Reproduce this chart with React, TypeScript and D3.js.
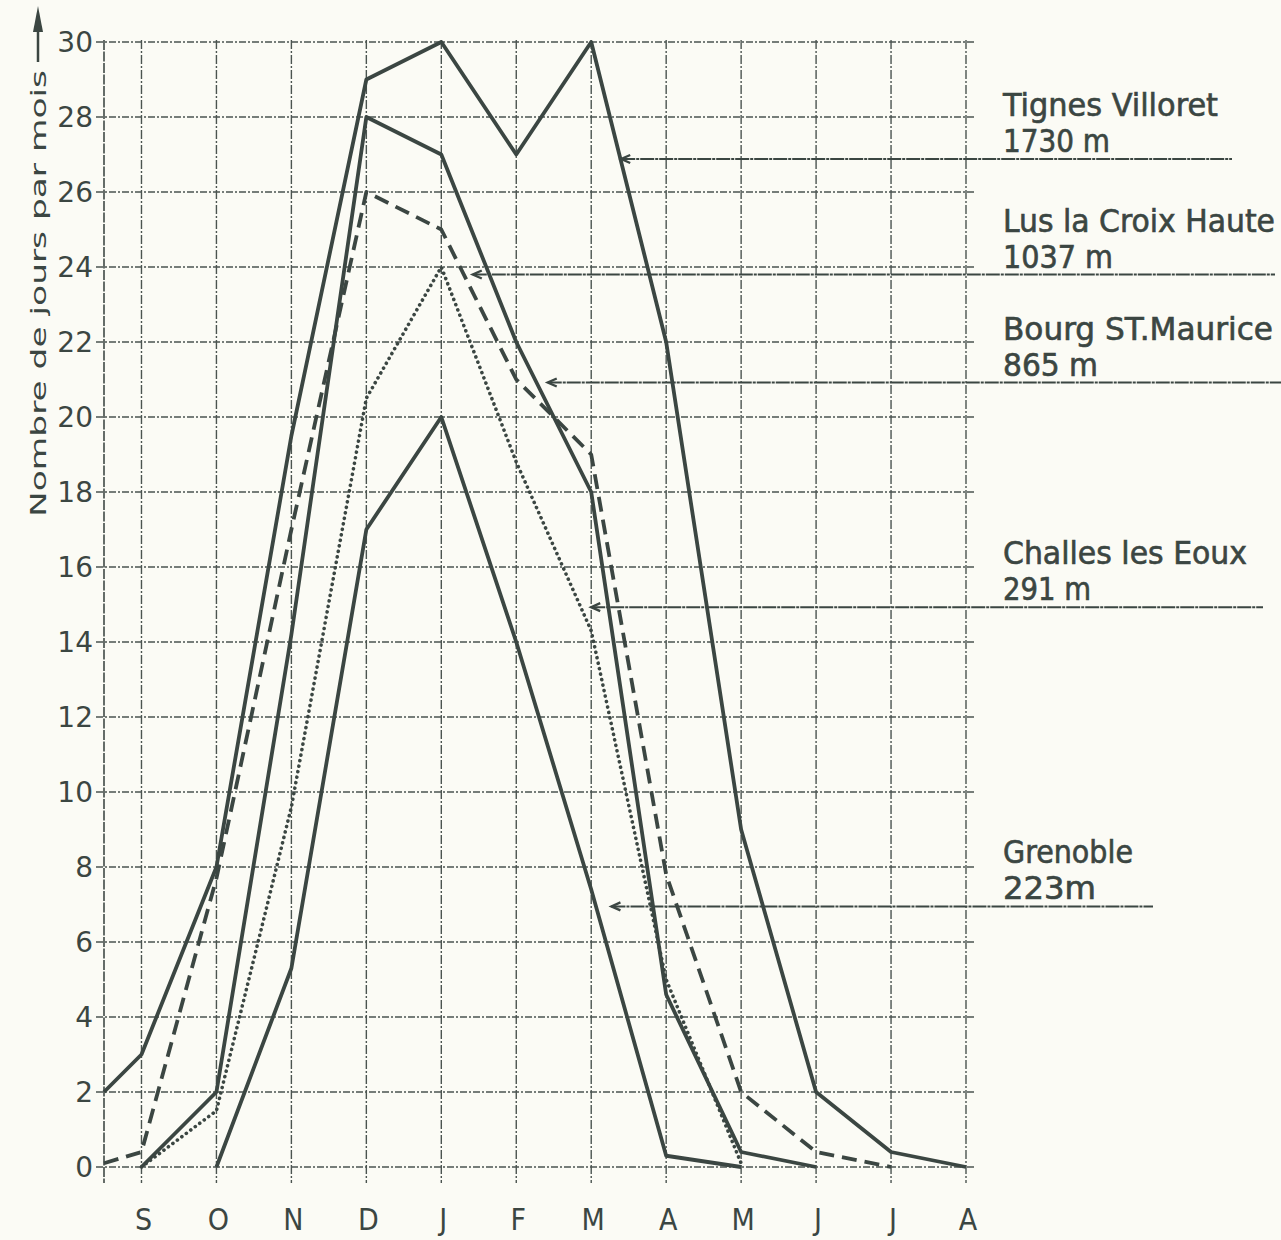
import React from "react";
import * as d3 from "d3";

// ---- data ----
const months = ["S", "O", "N", "D", "J", "F", "M", "A", "M", "J", "J", "A"];
// x positions of the samples (month index; -0.5 = left edge of the grid)
const xPos = [-0.5, 0, 1, 2, 3, 4, 5, 6, 7, 8, 9, 10, 11];
const yTicks = [0, 2, 4, 6, 8, 10, 12, 14, 16, 18, 20, 22, 24, 26, 28, 30];

const tignes = [2, 3, 8, 19.5, 29, 30, 27, 30, 22, 9, 2, 0.4, 0];
const lus = [0.1, 0.4, 7.7, 17, 26, 25, 21, 19, 7.8, 2, 0.4, 0, null];
const bourg = [null, 0, 2, 14.2, 28, 27, 22, 18, 4.6, 0.4, 0, null, null];
const challes = [null, 0, 1.5, 9.6, 20.5, 24, 18.8, 14.3, 5, 0.1, null, null, null];
const grenoble = [null, null, 0, 5.3, 17, 20, 14, 7.4, 0.3, 0, null, null, null];

const stationNames = ["Tignes Villoret", "Lus la Croix Haute", "Bourg ST.Maurice", "Challes les Eoux", "Grenoble"];
const stationAlts = ["1730 m", "1037 m", "865 m", "291 m", "223m"];
// where each leader arrow touches its curve (month index, days)
const leaderX = [6.4, 4.42, 5.42, 6.0, 6.27];
const leaderY = [26.88, 23.8, 20.92, 14.93, 6.95];

const yTitle = "Nombre de jours par mois";

// ---- layout / style ----
const W = 1281, H = 1240;
const INK = "#3b4642";
const GRID = "#4b5450";
const BG = "#fbfbf5";
const leaderEnd = [1232, 1275, 1281, 1263, 1153];
const nameLen = [215, 272, 270, 244, 130];
const altLen = [107, 110, 95, 88, 93];

const series = [
  { values: tignes, dash: null },
  { values: lus, dash: "15 8" },
  { values: bourg, dash: null },
  { values: challes, dash: "0.1 5.5" },
  { values: grenoble, dash: null },
];

export default function App() {
  const x = d3.scaleLinear().domain([-0.5, 11]).range([104, 966]);
  const y = d3.scaleLinear().domain([0, 30]).range([1167, 42]);

  const line = d3
    .line<[number, number | null]>()
    .defined((d) => d[1] !== null)
    .x((d) => x(d[0]))
    .y((d) => y(d[1] as number));

  const gridDash = "7 2 2 2";
  const condensed = "'DejaVu Sans Condensed', 'DejaVu Sans', sans-serif";

  return (
    <svg
      width={W}
      height={H}
      viewBox={`0 0 ${W} ${H}`}
      style={{ position: "absolute", left: 0, top: 0, display: "block", background: BG }}
    >
      <rect x={0} y={0} width={W} height={H} fill={BG} />

      {/* horizontal grid */}
      {yTicks.map((t) => (
        <line
          key={"h" + t}
          x1={96}
          x2={975}
          y1={y(t)}
          y2={y(t)}
          stroke={GRID}
          strokeWidth={1.6}
          strokeDasharray={gridDash}
        />
      ))}
      {/* vertical grid: left edge + months */}
      {[-0.5, ...months.map((_, i) => i)].map((v) => (
        <line
          key={"v" + v}
          x1={x(v)}
          x2={x(v)}
          y1={y(30) - 2}
          y2={y(0) + 16}
          stroke={GRID}
          strokeWidth={v === -0.5 ? 1.7 : 1.4}
          strokeDasharray={v === -0.5 ? "10 1.5" : "9 2 2 2"}
        />
      ))}

      {/* y tick labels */}
      {yTicks.map((t) => (
        <text
          key={"yl" + t}
          x={93}
          y={y(t) + 10}
          textAnchor="end"
          fontFamily="'DejaVu Sans', sans-serif"
          fontSize={28}
          fill={INK}
        >
          {t}
        </text>
      ))}

      {/* x labels */}
      {months.map((m, i) => (
        <text
          key={"xl" + i}
          x={x(i) + 2}
          y={1230}
          textAnchor="middle"
          fontFamily={condensed}
          fontSize={30}
          fill={INK}
        >
          {m}
        </text>
      ))}

      {/* y axis title with arrow */}
      <text
        transform={`translate(46, 517) rotate(-90)`}
        fontFamily="'DejaVu Sans', sans-serif"
        fontSize={21}
        fill={INK}
        textLength={447}
        lengthAdjust="spacingAndGlyphs"
      >
        {yTitle}
      </text>
      <line x1={38} x2={38} y1={62} y2={24} stroke={INK} strokeWidth={2.5} />
      <path d="M38,6 L33,32 L43,32 Z" fill={INK} />

      {/* series */}
      {series.map((s, i) => (
        <path
          key={"s" + i}
          d={line(xPos.map((p, j) => [p, s.values[j]]) as any) || ""}
          fill="none"
          stroke={INK}
          strokeWidth={s.dash === "0.1 5.5" ? 3.6 : 3.8}
          strokeDasharray={s.dash || undefined}
          strokeLinecap={s.dash === "0.1 5.5" ? "round" : "butt"}
          strokeLinejoin="round"
        />
      ))}

      {/* leaders and station labels */}
      {stationNames.map((n, i) => {
        const lx = x(leaderX[i]);
        const ly = y(leaderY[i]);
        return (
          <g key={"lg" + i}>
            <line x1={lx} x2={leaderEnd[i]} y1={ly} y2={ly} stroke={INK} strokeWidth={2} strokeDasharray="14 1 3 1" />
            <path d={`M${lx + 9},${ly - 4} L${lx},${ly} L${lx + 9},${ly + 4}`} fill="none" stroke={INK} strokeWidth={2.4} />
            <text
              x={1003}
              y={ly - 43}
              fontFamily={condensed}
              fontSize={32}
              fill={INK}
              stroke={INK}
              strokeWidth={0.6}
              textLength={nameLen[i]}
              lengthAdjust="spacingAndGlyphs"
            >
              {n}
            </text>
            <text
              x={1003}
              y={ly - 7}
              fontFamily={condensed}
              fontSize={32}
              fill={INK}
              stroke={INK}
              strokeWidth={0.6}
              textLength={altLen[i]}
              lengthAdjust="spacingAndGlyphs"
            >
              {stationAlts[i]}
            </text>
          </g>
        );
      })}
    </svg>
  );
}
